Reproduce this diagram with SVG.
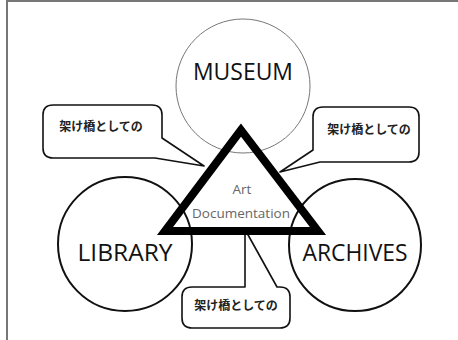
<svg xmlns="http://www.w3.org/2000/svg" width="458" height="340" viewBox="0 0 458 340">
<style>
.big{font-family:"Open Sans","Noto Sans",sans-serif;font-size:23px;font-weight:500;fill:#111;text-anchor:middle}
.mid{font-family:"Open Sans","Noto Sans",sans-serif;font-size:13.5px;fill:#666;text-anchor:middle}
.jp{font-family:"Noto Sans CJK JP",sans-serif;font-size:12px;font-weight:bold;fill:#222;text-anchor:middle}
.call{fill:#fff;stroke:#111;stroke-width:1.6;stroke-linejoin:round}
</style>
<rect width="458" height="340" fill="#fff"/>
<g id="frame"><line x1="7" y1="1" x2="458" y2="1" stroke="#777" stroke-width="2"/><line x1="7" y1="0" x2="7" y2="340" stroke="#777" stroke-width="2"/></g>
<g id="museum"><circle cx="243" cy="86" r="67" fill="#fff" stroke="#777" stroke-width="1"/><text class="big" x="243" y="80" textLength="100" lengthAdjust="spacingAndGlyphs">MUSEUM</text></g>
<g id="library"><circle cx="125" cy="244" r="67" fill="#fff" stroke="#111" stroke-width="2"/><text class="big" x="125" y="261" textLength="95" lengthAdjust="spacingAndGlyphs">LIBRARY</text></g>
<g id="archives"><circle cx="355" cy="245" r="66" fill="#fff" stroke="#111" stroke-width="2"/><text class="big" x="355" y="261" textLength="105" lengthAdjust="spacingAndGlyphs">ARCHIVES</text></g>
<g id="connectors">
<path class="call" d="M204,166 L162,138 L162,115 Q162,105 152,105 L53,105 Q43,105 43,115 L43,148 Q43,158 53,158 L155,158 Z"/>
<path class="call" d="M280,172 L313,150 L313,117 Q313,107 323,107 L409,107 Q419,107 419,117 L419,152 Q419,162 409,162 L320,162 Z"/>
<path class="call" d="M245,233 L245,287 L192,287 Q182,287 182,297 L182,318 Q182,328 192,328 L280,328 Q290,328 290,318 L290,297 Q290,287 280,287 L277,287 L247,233"/>
</g>
<g id="callout-left"><text class="jp" x="101" y="131">架け橋としての</text></g>
<g id="callout-right"><text class="jp" x="369" y="134">架け橋としての</text></g>
<g id="callout-bottom"><text class="jp" x="236" y="310">架け橋としての</text></g>
<g id="triangle"><polygon points="241,130 165,231 318,231" fill="none" stroke="#000" stroke-width="8" stroke-miterlimit="10"/>
<text class="mid" x="242" y="194">Art</text><text class="mid" x="241" y="218">Documentation</text></g>
</svg>
